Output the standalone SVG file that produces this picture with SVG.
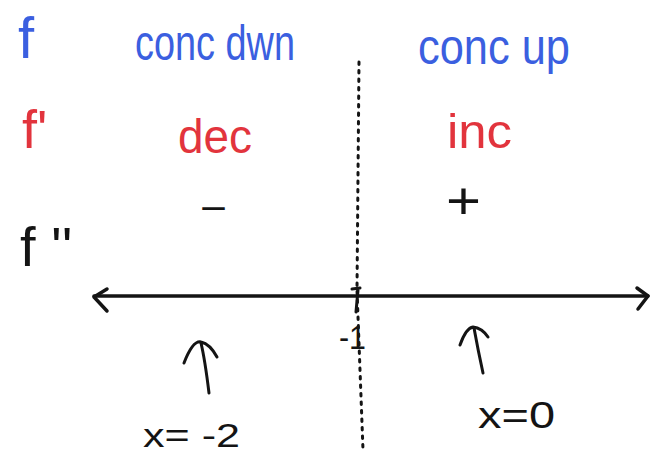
<svg xmlns="http://www.w3.org/2000/svg" width="651" height="455" viewBox="0 0 651 455">
<style>
  text { font-family: "Liberation Sans", "DejaVu Sans", sans-serif; }
  .blue { fill: #3b5fe0; }
  .red { fill: #e2343d; }
  .blk { fill: #141414; }
  .ink { fill: none; stroke: #141414; stroke-linecap: round; stroke-linejoin: round; }
</style>
<rect width="651" height="455" fill="#ffffff"/>
<g id="labels-f">
  <text class="blue" x="18" y="58" font-size="58">f</text>
  <text class="blue" x="135" y="60" font-size="50" textLength="160" lengthAdjust="spacingAndGlyphs">conc dwn</text>
  <text class="blue" x="418" y="64" font-size="50" textLength="152" lengthAdjust="spacingAndGlyphs">conc up</text>
</g>
<g id="labels-f1">
  <text class="red" x="22" y="148" font-size="54">f'</text>
  <text class="red" x="178" y="153" font-size="48" textLength="74" lengthAdjust="spacingAndGlyphs">dec</text>
  <text class="red" x="447" y="148" font-size="48" textLength="65" lengthAdjust="spacingAndGlyphs">inc</text>
</g>
<g id="labels-f2">
  <text class="blk" x="20" y="266" font-size="56">f ''</text>
  <text class="blk" x="200" y="222" font-size="40" textLength="27" lengthAdjust="spacingAndGlyphs">−</text>
  <text class="blk" x="446" y="219" font-size="52" textLength="35" lengthAdjust="spacingAndGlyphs">+</text>
</g>
<g id="connectors">
  <path class="ink" stroke-width="3.5" d="M94 296 L648 296"/>
  <path class="ink" stroke-width="3.5" d="M107 289 L94 297 L107 311"/>
  <path class="ink" stroke-width="3.5" d="M637 288 L648 296 L638 309"/>
  <path class="ink" stroke-width="3" stroke-dasharray="2.5 6" d="M359 62 L357 290 L363 450"/>
  <path class="ink" stroke-width="3" d="M352 289 L360 288 M358 290 L356 312"/>
  <path class="ink" stroke-width="3" d="M209 393 Q205 360 201 343 M184 363 Q193 340 201 342 Q210 344 217 357"/>
  <path class="ink" stroke-width="3" d="M483 373 Q478 350 474 328 M460 345 Q466 328 473 327 Q482 328 488 337"/>
</g>
<g id="axis-labels">
  <text class="blk" x="339" y="349" font-size="34" textLength="27" lengthAdjust="spacingAndGlyphs">-1</text>
  <text class="blk" x="143" y="447" font-size="34" textLength="97" lengthAdjust="spacingAndGlyphs">x= -2</text>
  <text class="blk" x="478" y="428" font-size="36" textLength="77" lengthAdjust="spacingAndGlyphs">x=0</text>
</g>
</svg>
